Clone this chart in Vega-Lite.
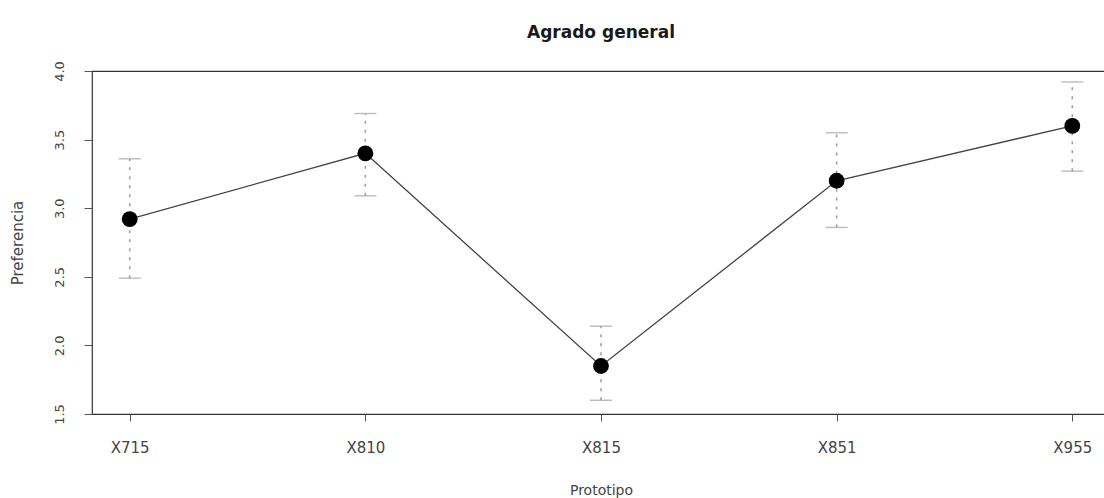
{
  "$schema": "https://vega.github.io/schema/vega-lite/v6.json",
  "autosize": {"type": "none"},
  "padding": {"left": 92, "top": 71, "right": 0, "bottom": 84},
  "width": 1018,
  "height": 343,
  "background": "white",
  "title": {
    "text": "Agrado general",
    "font": "DejaVu Sans",
    "fontSize": 17,
    "fontWeight": "bold",
    "color": "#1a1a1a",
    "anchor": "middle",
    "offset": 19
  },
  "config": {
    "view": {"stroke": "#333", "strokeWidth": 1.2},
    "axis": {
      "labelFont": "DejaVu Sans",
      "titleFont": "DejaVu Sans",
      "labelColor": "#444",
      "titleColor": "#444",
      "tickColor": "#555",
      "domain": false,
      "grid": false,
      "titleFontWeight": "normal"
    }
  },
  "data": {
    "values": [
      {"prototipo": "X715", "media": 2.92, "inferior": 2.49, "superior": 3.36},
      {"prototipo": "X810", "media": 3.40, "inferior": 3.09, "superior": 3.69},
      {"prototipo": "X815", "media": 1.85, "inferior": 1.60, "superior": 2.14},
      {"prototipo": "X851", "media": 3.20, "inferior": 2.86, "superior": 3.55},
      {"prototipo": "X955", "media": 3.60, "inferior": 3.27, "superior": 3.92}
    ]
  },
  "encoding": {
    "x": {
      "field": "prototipo",
      "type": "ordinal",
      "sort": null,
      "scale": {"type": "point", "padding": 0.16},
      "axis": {
        "title": "Prototipo",
        "labelAngle": 0,
        "labelFontSize": 15,
        "labelPadding": 19,
        "tickSize": 7,
        "titleFontSize": 14,
        "titlePadding": 28
      }
    }
  },
  "layer": [
    {
      "mark": {"type": "rule", "color": "#a0a0a0", "strokeWidth": 1.6, "strokeDash": [3, 6]},
      "encoding": {
        "y": {"field": "inferior", "type": "quantitative"},
        "y2": {"field": "superior"}
      }
    },
    {
      "mark": {"type": "tick", "orient": "horizontal", "color": "#a0a0a0", "size": 22, "thickness": 1.4, "strokeDash": [3, 3]},
      "encoding": {"y": {"field": "inferior", "type": "quantitative"}}
    },
    {
      "mark": {"type": "tick", "orient": "horizontal", "color": "#a0a0a0", "size": 22, "thickness": 1.4, "strokeDash": [3, 3]},
      "encoding": {"y": {"field": "superior", "type": "quantitative"}}
    },
    {
      "mark": {"type": "line", "color": "#444", "strokeWidth": 1.3},
      "encoding": {
        "y": {
          "field": "media",
          "type": "quantitative",
          "scale": {"domain": [1.5, 4], "nice": false, "zero": false},
          "axis": {
            "title": "Preferencia",
            "values": [1.5, 2, 2.5, 3, 3.5, 4],
            "format": ".1f",
            "labelAngle": -90,
            "labelAlign": "center",
            "labelBaseline": "bottom",
            "labelFontSize": 13,
            "labelPadding": 18,
            "tickSize": 8,
            "titleFontSize": 15,
            "titlePadding": 28
          }
        }
      }
    },
    {
      "mark": {"type": "point", "filled": true, "color": "#000", "opacity": 1, "size": 250},
      "encoding": {"y": {"field": "media", "type": "quantitative"}}
    }
  ]
}
